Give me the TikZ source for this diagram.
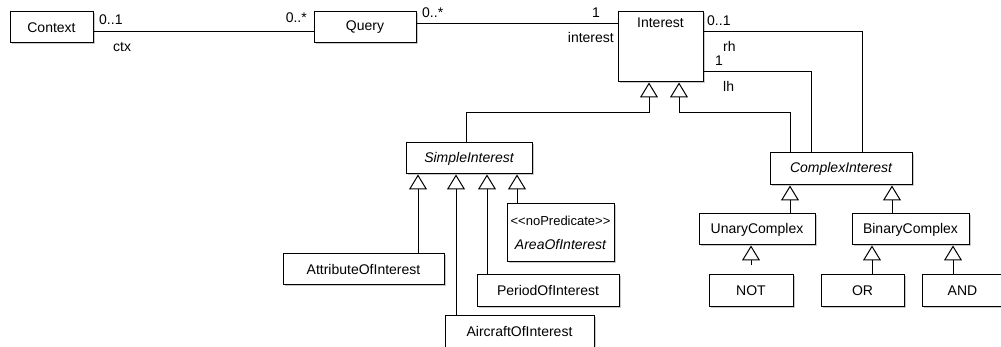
\documentclass[tikz,border=0pt]{standalone}
\usepackage{fontspec}
\setmainfont{Liberation Sans}
\usetikzlibrary{arrows.meta,shadows}

\begin{document}
\begin{tikzpicture}[x=1pt,y=-1pt,
  every node/.style={font=\fontsize{14}{17}\selectfont},
  cls/.style={draw, line width=1pt, fill=white, inner sep=0pt,
    drop shadow={shadow xshift=1.5pt, shadow yshift=-1.5pt, opacity=0.35, fill=black!60}},
  abstractcls/.style={cls, font=\fontsize{14}{17}\selectfont\itshape},
  gen/.style={line width=1pt, -{Triangle[open, width=18pt, length=15pt, fill=white, line width=1pt]}},
  assoc/.style={line width=1pt},
  lbl/.style={inner sep=0pt}]
\clip (0,0) rectangle (1001,347);

% classes
\node[cls, minimum width=83pt, minimum height=31pt] (Context) at (51.5,27.5) {Context};
\node[cls, minimum width=102pt, minimum height=31pt] (Query) at (365,27.5) {Query};
\node[cls, minimum width=85pt, minimum height=70pt] (Interest) at (660.5,47) {};
\node[lbl, anchor=north] (InterestName) at ([yshift=-6pt]Interest.north) {Interest};

\node[abstractcls, minimum width=126pt, minimum height=31pt] (Simple) at (469,158.5) {SimpleInterest};
\node[abstractcls, minimum width=142pt, minimum height=32pt] (Complex) at (841,169) {ComplexInterest};

\node[cls, minimum width=161pt, minimum height=31pt] (Attribute) at (363.5,269.5) {AttributeOfInterest};
\node[cls, minimum width=142pt, minimum height=31pt] (Period) at (548,290.5) {PeriodOfInterest};
\node[cls, minimum width=149pt, minimum height=33pt] (Aircraft) at (519.5,331.5) {AircraftOfInterest};
\node[cls, minimum width=107pt, minimum height=58pt, align=center] (Area) at (560.5,233)
  {\fontsize{13}{16}\selectfont\textless\kern0pt\textless noPredicate\textgreater\kern0pt\textgreater\\[7pt]
   \itshape AreaOfInterest};

\node[cls, minimum width=116pt, minimum height=31pt] (Unary) at (757,229.5) {UnaryComplex};
\node[cls, minimum width=117pt, minimum height=31pt] (Binary) at (910.5,229.5) {BinaryComplex};
\node[cls, minimum width=84pt, minimum height=32pt] (NOT) at (751,290.5) {NOT};
\node[cls, minimum width=83pt, minimum height=32pt] (OR) at (862.5,290.5) {OR};
\node[cls, minimum width=81pt, minimum height=32pt] (AND) at (962.5,290.5) {AND};

% associations
\draw[assoc] ([yshift=-4.5pt]Context.east) -- ([yshift=-4.5pt]Query.west);
\draw[assoc] ([yshift=3.5pt]Query.east) coordinate (qi) -- (qi -| Interest.west);
\draw[assoc] ([yshift=15pt]Interest.east) -| ([xshift=21pt]Complex.north);
\draw[assoc] ([yshift=-25pt]Interest.east) -| ([xshift=-30pt]Complex.north);

% association end labels
\node[lbl, anchor=west] (m1) at (99,20) {0..1};
\node[lbl, anchor=west] (r1) at (113,47) {ctx};
\node[lbl, anchor=east] (m2) at (307,18) {0..*};
\node[lbl, anchor=west] (m3) at (422,13) {0..*};
\node[lbl, anchor=east] (m4) at (600,13) {1};
\node[lbl, anchor=east] (r2) at (614,37.5) {interest};
\node[lbl, anchor=west] (m5) at (707,21) {0..1};
\node[lbl, anchor=west] (r3) at (723,46) {rh};
\node[lbl, anchor=west] (m6) at (715,61) {1};
\node[lbl, anchor=west] (r4) at (723,86) {lh};

% generalizations to Interest
\draw[gen] ([xshift=-3pt]Simple.north) -- ++(0,-30) -| ([xshift=-11.5pt]Interest.south);
\draw[gen] ([xshift=-51pt]Complex.north) -- ++(0,-40) -| ([xshift=18.5pt]Interest.south);

% generalizations to SimpleInterest
\coordinate (s1) at ([xshift=-51pt]Simple.south);
\coordinate (s2) at ([xshift=-13pt]Simple.south);
\coordinate (s3) at ([xshift=18pt]Simple.south);
\coordinate (s4) at ([xshift=48pt]Simple.south);
\draw[gen] (Attribute.north -| s1) -- (s1);
\draw[gen] (Aircraft.north -| s2) -- (s2);
\draw[gen] (Period.north -| s3) -- (s3);
\draw[gen] (Area.north -| s4) -- (s4);

% generalizations to ComplexInterest
\coordinate (c1) at ([xshift=-51pt]Complex.south);
\coordinate (c2) at ([xshift=51pt]Complex.south);
\draw[gen] (Unary.north -| c1) -- (c1);
\draw[gen] (Binary.north -| c2) -- (c2);

% generalizations to UnaryComplex and BinaryComplex
\coordinate (u1) at ([xshift=-6pt]Unary.south);
\coordinate (notend) at ([yshift=9pt]NOT.north -| u1);
\draw[gen] (notend) -- (u1);
\coordinate (b1) at ([xshift=-38.5pt]Binary.south);
\coordinate (b2) at ([xshift=42.5pt]Binary.south);
\draw[gen] (OR.north -| b1) -- (b1);
\draw[gen] (AND.north -| b2) -- (b2);
\end{tikzpicture}
\end{document}
